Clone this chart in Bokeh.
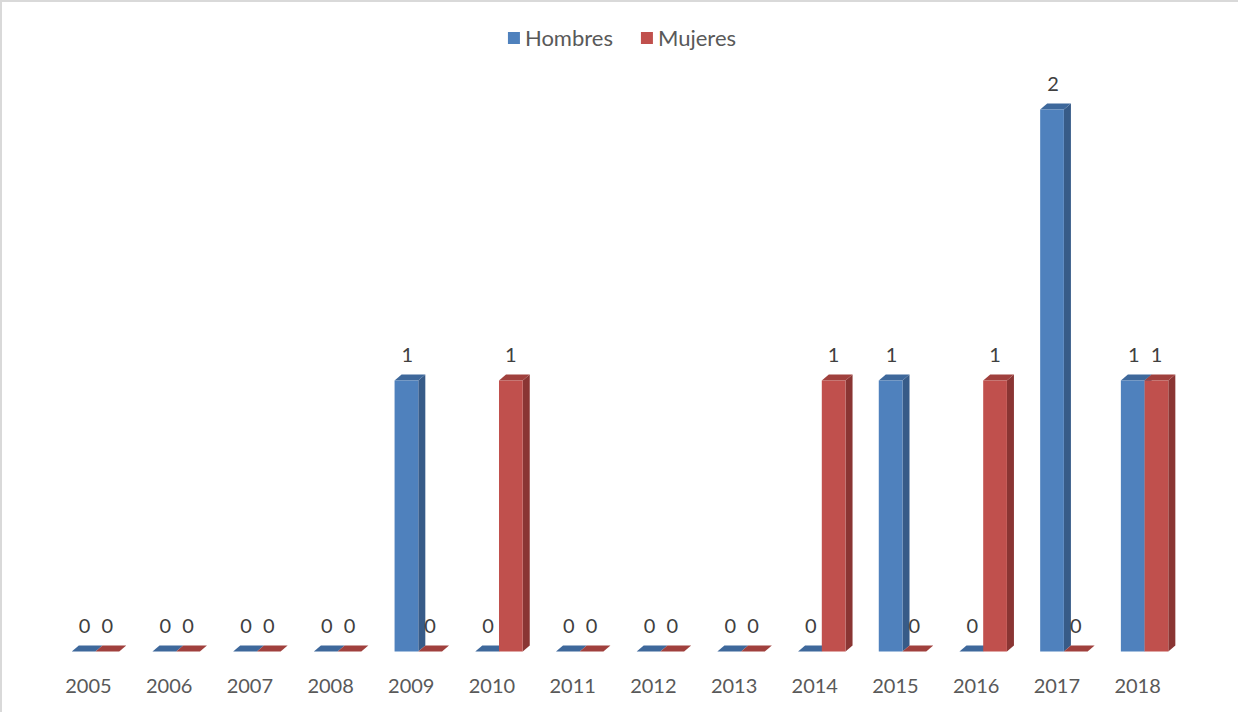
from bokeh.plotting import figure
from bokeh.models import Range1d, FixedTicker, CustomJSTickFormatter, Legend, LegendItem, ColumnDataSource
from bokeh.core.properties import value
from bokeh.embed import file_html
from bokeh.resources import INLINE

# ---- data ----
years = ["2005", "2006", "2007", "2008", "2009", "2010", "2011",
         "2012", "2013", "2014", "2015", "2016", "2017", "2018"]
hombres = [0, 0, 0, 0, 1, 0, 0, 0, 0, 0, 1, 0, 2, 1]
mujeres = [0, 0, 0, 0, 0, 1, 0, 0, 0, 1, 0, 1, 0, 1]

# ---- styling / geometry ----
FONT = "Lato"
BLUE, BLUE_SIDE, BLUE_TOP = "#4f81bd", "#375b88", "#3e689b"
RED, RED_SIDE, RED_TOP = "#c0504d", "#8a3533", "#a0403d"
W = 0.294    # bar width (category units)
DX = 0.087   # depth in x (category units)
DY = 0.022   # depth in y (value units)

p = figure(width=1238, height=712, output_backend="svg", toolbar_location=None,
           x_range=Range1d(-1.1524, 14.1884), y_range=Range1d(-0.048, 2.3948),
           min_border_left=0, min_border_right=0, min_border_top=0, min_border_bottom=50)
p.styles = {"border-top": "2px solid #d9d9d9", "border-left": "2px solid #d9d9d9"}
p.outline_line_color = None
p.xgrid.visible = False
p.ygrid.visible = False
p.yaxis.visible = False
p.background_fill_color = "white"
p.border_fill_color = "white"

idx = list(range(len(years)))


def bar3d(vals, side, colors, label_x_shift):
    front, side_c, top_c = colors
    lefts = [i - W if side == "left" else i for i in idx]
    rights = [l + W for l in lefts]
    sx, sy = [], []
    tx, ty = [], []
    for l, r, v in zip(lefts, rights, vals):
        if v > 0:
            sx.append([r, r + DX, r + DX, r])
            sy.append([0, DY, v + DY, v])
        tx.append([l, l + DX, r + DX, r])
        ty.append([v, v + DY, v + DY, v])
    if sx:
        p.patches(sx, sy, fill_color=side_c, line_color=None)
    p.patches(tx, ty, fill_color=top_c, line_color=None)
    src = ColumnDataSource(dict(x=[(l + r) / 2 for l, r in zip(lefts, rights)],
                                top=vals, lx=[(l + r) / 2 + label_x_shift for l, r in zip(lefts, rights)],
                                txt=[str(v) for v in vals]))
    r_front = p.vbar(x="x", top="top", bottom=0, width=W, source=src,
                     fill_color=front, line_color=None)
    p.text(x="lx", y="top", text="txt", source=src, text_align="center",
           text_baseline="middle", y_offset=-25, text_font=value(FONT),
           text_font_size="20px", text_color="#404040")
    return r_front


rb = bar3d(hombres, "left", (BLUE, BLUE_SIDE, BLUE_TOP), 0.012)
rr = bar3d(mujeres, "right", (RED, RED_SIDE, RED_TOP), 0.0)

# x axis with year labels
xa = p.xaxis[0]
xa.ticker = FixedTicker(ticks=[i - DX for i in idx])
xa.formatter = CustomJSTickFormatter(args=dict(labels=years), code="return labels[index];")
xa.axis_line_color = None
xa.major_tick_line_color = None
xa.minor_tick_line_color = None
xa.major_label_standoff = 8
xa.major_label_text_font = FONT
xa.major_label_text_font_size = "20px"
xa.major_label_text_color = "#595959"

legend = Legend(items=[LegendItem(label="Hombres", renderers=[rb]),
                       LegendItem(label="Mujeres", renderers=[rr])],
                location="top_center", orientation="horizontal",
                glyph_width=15, glyph_height=15, label_height=24,
                label_standoff=4, spacing=26, padding=0, margin=22,
                border_line_color=None, background_fill_alpha=0,
                label_text_font=FONT, label_text_font_size="22px",
                label_text_color="#595959")
p.add_layout(legend)

open("out.html", "w").write(file_html(p, INLINE))
